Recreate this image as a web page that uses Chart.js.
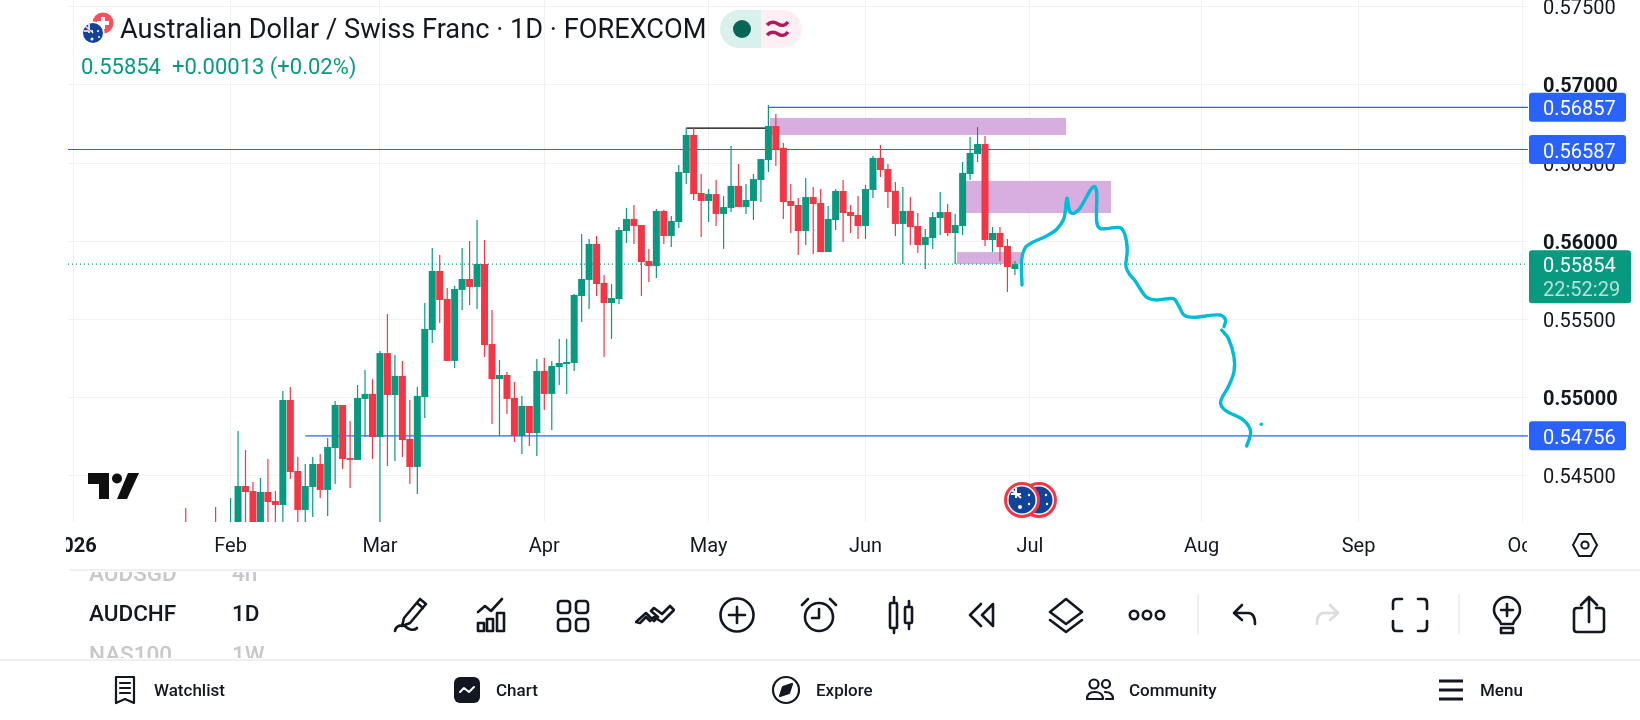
<!DOCTYPE html>
<html>
<head>
<meta charset="utf-8">
<title>AUDCHF 1D</title>
<script src="https://cdn.jsdelivr.net/npm/chart.js@4"></script>
<style>
html, body { margin: 0; padding: 0; background: #fff; width: 1640px; height: 720px; overflow: hidden; font-family: Roboto, sans-serif; color: #131722; }
#chart { position: absolute; left: 0; top: 0; }
.abs { position: absolute; white-space: nowrap; }
.ic { position: absolute; width: 40px; height: 40px; top: 595px; fill: none; stroke: #131722; stroke-width: 2.6; stroke-linecap: round; stroke-linejoin: round; }
.nav { position: absolute; top: 680px; font-size: 17px; font-weight: 500; line-height: 20px; }
.navic { position: absolute; top: 675px; width: 30px; height: 30px; fill: none; stroke: #131722; stroke-width: 2.2; stroke-linecap: round; stroke-linejoin: round; }
#picker { position: absolute; left: 0; top: 572px; width: 350px; height: 86px; overflow: hidden; font-size: 22.5px; font-weight: 500; }
#picker div { position: absolute; line-height: 28px; }
</style>
</head>
<body>
<canvas id="chart" width="1640" height="720"></canvas>

<!-- symbol header -->
<svg class="abs" style="left:80px;top:10px" width="48" height="40" viewBox="0 0 48 40">
  <circle cx="23" cy="13" r="10.5" fill="#F4535B"/>
  <path d="M21 7h4v4h4v4h-4v4h-4v-4h-4v-4h4z" fill="#fff"/>
  <circle cx="13" cy="23" r="11.5" fill="#fff"/>
  <circle cx="13" cy="23" r="10" fill="#12439B"/>
  <path d="M5 16l8 7M4 21h9M9 14v9" stroke="#fff" stroke-width="1.6"/>
  <path d="M5 17l7 6" stroke="#E5374A" stroke-width="1"/>
  <circle cx="12" cy="29" r="1.5" fill="#fff"/><circle cx="18" cy="21" r="1" fill="#fff"/><circle cx="19" cy="27" r="1" fill="#fff"/>
</svg>
<div class="abs" style="left:120px;top:12px;font-size:27.2px;line-height:34px">Australian Dollar / Swiss Franc · 1D · FOREXCOM</div>
<div class="abs" style="left:81px;top:53px;font-size:22px;line-height:28px;color:#089981">0.55854&nbsp; +0.00013 (+0.02%)</div>
<svg class="abs" style="left:720px;top:10px" width="82" height="38" viewBox="0 0 82 38">
  <path d="M41 0H19a19 19 0 0 0 0 38h22z" fill="#DAF0EC"/>
  <path d="M41 0h22a19 19 0 0 1 0 38H41z" fill="#FDEFF4"/>
  <circle cx="22" cy="19" r="9" fill="#056656"/>
  <path d="M47 15c4-4 8-3 11-1s7 2 10-2M47 25c4-4 8-3 11-1s7 2 10-2" fill="none" stroke="#B2185B" stroke-width="3.4"/>
</svg>

<!-- TradingView mark -->
<svg class="abs" style="left:88px;top:473px" width="52" height="27" viewBox="0 0 52 27">
  <path d="M0 0h21v26H11V11H0z" fill="#0F0F0F"/>
  <circle cx="29" cy="5.5" r="5" fill="#0F0F0F"/>
  <path d="M40 0h11L39 26H29z" fill="#0F0F0F"/>
</svg>

<!-- event flags -->
<svg class="abs" style="left:1002px;top:481px" width="56" height="40" viewBox="0 0 56 40">
  <circle cx="37" cy="19" r="16.5" fill="#fff" stroke="#F23645" stroke-width="3"/>
  <circle cx="37" cy="19" r="13.5" fill="#12439B"/>
  <circle cx="20" cy="19" r="16.5" fill="#fff" stroke="#F23645" stroke-width="3"/>
  <circle cx="20" cy="19" r="13.5" fill="#12439B"/>
  <path d="M10 9l9 8M9 13h10M14 7v10" stroke="#fff" stroke-width="2"/>
  <circle cx="18" cy="26" r="2" fill="#fff"/><circle cx="27" cy="14" r="1.2" fill="#fff"/><circle cx="27" cy="23" r="1.2" fill="#fff"/><circle cx="44" cy="14" r="1.2" fill="#fff"/><circle cx="45" cy="23" r="1.2" fill="#fff"/>
</svg>

<!-- axis settings -->
<svg class="abs" style="left:1570px;top:530px;fill:none;stroke:#131722;stroke-width:2" width="30" height="30" viewBox="0 0 30 30">
  <path d="M9 4h12l6 11-6 11H9L3 15z"/><circle cx="15" cy="15" r="3.6"/>
</svg>

<div class="abs" style="left:69px;top:569px;width:1571px;height:2px;background:#F0F0F2"></div>
<div class="abs" style="left:0;top:659px;width:1640px;height:2px;background:#F0F0F2"></div>

<!-- symbol picker -->
<div id="picker">
  <div style="left:89px;top:-13px;color:#C8C8CC">AUDSGD</div><div style="left:232px;top:-13px;color:#C8C8CC">4h</div>
  <div style="left:89px;top:27px">AUDCHF</div><div style="left:232px;top:27px">1D</div>
  <div style="left:89px;top:68px;color:#C8C8CC">NAS100</div><div style="left:232px;top:68px;color:#C8C8CC">1W</div>
</div>

<!-- toolbar -->
<svg class="ic" style="left:391px" viewBox="0 0 40 40"><path d="M29 4l6 5-16 19-8 3 2-8zM26 8l6 5M4 36c1-6 8-7 11-4s8 4 11 1"/></svg>
<svg class="ic" style="left:473px" viewBox="0 0 40 40"><path d="M5 17l7-6 6 5 11-12M5 28h6v8H5zM14 24h6v12h-6zM24 18h7v18h-7z"/></svg>
<svg class="ic" style="left:553px" viewBox="0 0 40 40"><rect x="5" y="6" width="12" height="12" rx="3"/><rect x="23" y="6" width="12" height="12" rx="3"/><rect x="5" y="24" width="12" height="12" rx="3"/><rect x="23" y="24" width="12" height="12" rx="3"/></svg>
<svg class="ic" style="left:635px" viewBox="0 0 40 40"><path d="M1 27l10-9 8 8 4-4-7-6 3-3 8 6 8-8 4 4-12 12-8-5-4 4-4-4-6 6z"/></svg>
<svg class="ic" style="left:717px" viewBox="0 0 40 40"><circle cx="20" cy="20" r="16.5"/><path d="M20 12v16M12 20h16"/></svg>
<svg class="ic" style="left:799px" viewBox="0 0 40 40"><circle cx="20" cy="22" r="14"/><path d="M20 14v9h-7M3 10l6-6M37 10l-6-6"/></svg>
<svg class="ic" style="left:882px" viewBox="0 0 40 40"><path d="M12 2v5M12 33v5M27 6v6M27 28v6"/><rect x="8" y="8" width="7" height="25" rx="1"/><rect x="23" y="12" width="7" height="16" rx="1"/></svg>
<svg class="ic" style="left:963px" viewBox="0 0 40 40"><path d="M18 9L7 20l11 11M30 9L19 20l11 11zM30 9v22"/></svg>
<svg class="ic" style="left:1046px" viewBox="0 0 40 40"><path d="M20 4l16 13-16 12L4 17zM4 25l16 12 16-12"/></svg>
<svg class="ic" style="left:1127px" viewBox="0 0 40 40"><circle cx="7" cy="20" r="4.2"/><circle cx="20" cy="20" r="4.2"/><circle cx="33" cy="20" r="4.2"/></svg>
<div class="abs" style="left:1197px;top:594px;width:2px;height:40px;background:#F0F0F2"></div>
<svg class="ic" style="left:1225px" viewBox="0 0 40 40"><path d="M17 10l-8 8 8 7M9 18h14c5 0 7 4 7 11"/></svg>
<svg class="ic" style="left:1307px;stroke:#DCDCDE" viewBox="0 0 40 40"><path d="M23 10l8 8-8 7M31 18H17c-5 0-7 4-7 11"/></svg>
<svg class="ic" style="left:1390px" viewBox="0 0 40 40"><path d="M12 4H6Q3 4 3 8v6M28 4h6q3 0 3 4v6M12 36H6q-3 0-3-4v-6M28 36h6q3 0 3-4v-6"/></svg>
<div class="abs" style="left:1458px;top:594px;width:2px;height:40px;background:#F0F0F2"></div>
<svg class="ic" style="left:1487px" viewBox="0 0 40 40"><path d="M14 29c0-4-7-6-7-14a13 13 0 0 1 26 0c0 8-7 10-7 14zM14 33h12v5H14zM20 9v12M14 15h12"/></svg>
<svg class="ic" style="left:1569px" viewBox="0 0 40 40"><path d="M13 13H8q-3 0-3 3v18q0 3 3 3h24q3 0 3-3V16q0-3-3-3h-5M20 27V3M12 10l8-8 8 8"/></svg>

<!-- bottom navigation -->
<svg class="navic" style="left:110px" viewBox="0 0 30 30"><path d="M6 2h18v26l-9-4-9 4zM10 8h10M10 13h10M10 18h10"/></svg>
<div class="nav" style="left:154px">Watchlist</div>
<svg class="navic" style="left:452px;stroke:none" viewBox="0 0 30 30"><rect x="2" y="2" width="26" height="26" rx="6" fill="#131722"/><path d="M8 17l4-4 5 4 5-5" fill="none" stroke="#fff" stroke-width="2"/></svg>
<div class="nav" style="left:496px">Chart</div>
<svg class="navic" style="left:771px" viewBox="0 0 30 30"><circle cx="15" cy="15" r="13"/><path d="M21 9l-3 9-9 3 3-9z" fill="#131722"/></svg>
<div class="nav" style="left:816px">Explore</div>
<svg class="navic" style="left:1085px" viewBox="0 0 30 30"><circle cx="9" cy="9" r="4.5"/><circle cx="21" cy="9" r="4"/><path d="M2 24c0-6 4-7 8-7s8 2 8 7zM21 24h7c0-5-3-7-8-7"/></svg>
<div class="nav" style="left:1129px">Community</div>
<svg class="navic" style="left:1436px;stroke-width:3;stroke-linecap:butt" viewBox="0 0 30 30"><path d="M3 6h24M3 15h24M3 24h24"/></svg>
<div class="nav" style="left:1480px">Menu</div>

<script>
// daily bars, counted from the first session of January
const firstBar = 15;
const opens = [
  0.54154, null, null, null, 0.54167, null, 0.54090, 0.54154, 0.54435, 0.54403, 0.54154, 0.54397, 0.54339, 0.54314, 0.54985,
  0.54531, 0.54282, 0.54429, 0.54576, 0.54410, 0.54678, 0.54953, 0.54614, 0.54602, 0.54992, 0.55024, 0.54749, 0.55285, 0.55017, 0.55139,
  0.54736, 0.54557, 0.55004, 0.55433, 0.55810, 0.55631, 0.55235, 0.55689, 0.55759, 0.55708, 0.55855, 0.55343, 0.55119, 0.55145, 0.54998,
  0.54755, 0.54947, 0.54774, 0.55171, 0.55024, 0.55196, 0.55215, 0.55222, 0.55650, 0.55753, 0.55983, 0.55734, 0.55605, 0.55631, 0.56066,
  0.56143, 0.56104, 0.55874, 0.55842, 0.56194, 0.56034, 0.56123, 0.56437, 0.56680, 0.56309, 0.56258, 0.56302, 0.56175, 0.56213, 0.56354,
  0.56219, 0.56258, 0.56392, 0.56520, 0.56737, 0.56597, 0.56258, 0.56232, 0.56066, 0.56283, 0.56245, 0.55931, 0.56136, 0.56322, 0.56187,
  0.56168, 0.56098, 0.56328, 0.56533, 0.56462, 0.56322, 0.56111, 0.56194, 0.56098, 0.55976, 0.56021, 0.56149, 0.56187, 0.56053, 0.56098,
  0.56430, 0.56558, 0.56622, 0.56008, 0.56053, 0.55970, 0.55823
];
const highs = [
  0.54295, null, null, null, 0.54301, null, 0.54358, 0.54787, 0.54665, 0.54461, 0.54486, 0.54608, 0.54403, 0.55043, 0.55068,
  0.54621, 0.54576, 0.54621, 0.54640, 0.54742, 0.54979, 0.54953, 0.54851, 0.55081, 0.55177, 0.55119, 0.55298, 0.55535, 0.55273, 0.55235,
  0.54985, 0.55068, 0.55605, 0.55957, 0.55912, 0.55701, 0.55714, 0.55957, 0.56002, 0.56136, 0.56008, 0.55561, 0.55241, 0.55164, 0.55100,
  0.55011, 0.54947, 0.55247, 0.55254, 0.55235, 0.55375, 0.55375, 0.55663, 0.56047, 0.56015, 0.56034, 0.55785, 0.55727, 0.56091, 0.56213,
  0.56232, 0.56104, 0.55951, 0.56207, 0.56200, 0.56162, 0.56488, 0.56724, 0.56731, 0.56430, 0.56334, 0.56392, 0.56290, 0.56609, 0.56494,
  0.56366, 0.56430, 0.56526, 0.56871, 0.56814, 0.56628, 0.56366, 0.56277, 0.56405, 0.56347, 0.56334, 0.56226, 0.56334, 0.56392, 0.56232,
  0.56290, 0.56360, 0.56545, 0.56616, 0.56494, 0.56379, 0.56347, 0.56283, 0.56181, 0.56079, 0.56187, 0.56315, 0.56238, 0.56175, 0.56507,
  0.56667, 0.56731, 0.56673, 0.56091, 0.56091, 0.56015, 0.55874
];
const lows = [
  0.54058, null, null, null, 0.54090, null, 0.54039, 0.54026, 0.54154, 0.54122, 0.54122, 0.54154, 0.54154, 0.54186, 0.54480,
  0.54186, 0.54186, 0.54237, 0.54358, 0.54244, 0.54448, 0.54544, 0.54422, 0.54602, 0.54749, 0.54608, 0.54186, 0.54563, 0.54595, 0.54621,
  0.54448, 0.54384, 0.54870, 0.55349, 0.55477, 0.55235, 0.55190, 0.55561, 0.55593, 0.55567, 0.55260, 0.54832, 0.54755, 0.54896, 0.54717,
  0.54640, 0.54691, 0.54627, 0.54921, 0.54793, 0.55081, 0.55024, 0.55171, 0.55484, 0.55567, 0.55650, 0.55260, 0.55375, 0.55599, 0.55989,
  0.55983, 0.55650, 0.55740, 0.55765, 0.55983, 0.55963, 0.56085, 0.56366, 0.56264, 0.56027, 0.56123, 0.56098, 0.55951, 0.56187, 0.56219,
  0.56175, 0.56136, 0.56251, 0.56443, 0.56481, 0.56143, 0.56053, 0.55912, 0.55976, 0.55919, 0.55931, 0.55931, 0.56072, 0.55995, 0.56053,
  0.56015, 0.56015, 0.56277, 0.56411, 0.56213, 0.56034, 0.55855, 0.55976, 0.55925, 0.55823, 0.55951, 0.56040, 0.56034, 0.55855, 0.56040,
  0.56392, 0.56507, 0.55970, 0.55931, 0.55874, 0.55676, 0.55785
];
const closes = [
  0.54116, null, null, null, 0.54128, null, 0.54180, 0.54435, 0.54397, 0.54154, 0.54397, 0.54333, 0.54314, 0.54985, 0.54525,
  0.54282, 0.54435, 0.54576, 0.54410, 0.54685, 0.54953, 0.54608, 0.54602, 0.54998, 0.55024, 0.54749, 0.55285, 0.55017, 0.55139, 0.54729,
  0.54557, 0.55011, 0.55439, 0.55810, 0.55625, 0.55235, 0.55695, 0.55759, 0.55708, 0.55855, 0.55337, 0.55119, 0.55145, 0.54992, 0.54755,
  0.54947, 0.54774, 0.55171, 0.55024, 0.55203, 0.55222, 0.55228, 0.55657, 0.55759, 0.55983, 0.55727, 0.55605, 0.55637, 0.56072, 0.56143,
  0.56098, 0.55867, 0.55842, 0.56194, 0.56034, 0.56130, 0.56443, 0.56680, 0.56302, 0.56258, 0.56302, 0.56175, 0.56219, 0.56354, 0.56219,
  0.56264, 0.56398, 0.56526, 0.56737, 0.56590, 0.56251, 0.56226, 0.56066, 0.56283, 0.56238, 0.55931, 0.56143, 0.56322, 0.56181, 0.56162,
  0.56098, 0.56334, 0.56533, 0.56456, 0.56315, 0.56111, 0.56194, 0.56091, 0.55976, 0.56027, 0.56155, 0.56187, 0.56053, 0.56104, 0.56437,
  0.56565, 0.56622, 0.56008, 0.56053, 0.55963, 0.55835, 0.55854
];

const monthBars = [0, 21, 41, 63, 85, 106, 128, 151, 172, 194];
const monthLabels = ['2026', 'Feb', 'Mar', 'Apr', 'May', 'Jun', 'Jul', 'Aug', 'Sep', 'Oct'];
const priceTicks = [0.575, 0.57, 0.565, 0.56, 0.555, 0.55, 0.545];
const boldPrices = [0.57, 0.56, 0.55];

const lastPrice = 0.55854;
const countdown = '22:52:29';

// horizontal drawings
const levelPrices = [0.56857, 0.56587, 0.54756];
const levelStarts = [93, -0.76, 31];
const swingPrice = 0.56724;
const swingBars = [82, 93];

// shaded zones
const zoneStarts = [93.21, 119.38, 118.24];
const zoneEnds = [132.84, 138.86, 126.82];
const zoneTops = [0.56789, 0.56386, 0.55931];
const zoneBottoms = [0.56680, 0.56181, 0.55854];

// hand drawn path, null splits the two strokes
const penBars = [126.95, 126.9, 127.35, 128.25, 130.25, 131.6, 132.57, 132.97, 133.37, 133.9, 134.7, 135.6, 136.28, 136.72, 136.95, 136.95, 137.39, 138.29, 140.07, 140.74, 141.04, 140.87, 141.41, 142.08, 143.64, 144.98, 147.2, 147.87, 148.63, 149.88, 153.45, 154.2, 153.99, null, 153.68, 154.57, 155.33, 155.33, 154.57, 153.55, 154.12, 156.57, 157.56, 157.03];
const penPrices = [0.55721, 0.5588, 0.55957, 0.55991, 0.56034, 0.56077, 0.56147, 0.56275, 0.56189, 0.56179, 0.56211, 0.56285, 0.56339, 0.56349, 0.56307, 0.56125, 0.56083, 0.56081, 0.56087, 0.5604, 0.55944, 0.55838, 0.55785, 0.55748, 0.55642, 0.55625, 0.55633, 0.55593, 0.55529, 0.55514, 0.55529, 0.55497, 0.55454, null, 0.55433, 0.5538, 0.55262, 0.55166, 0.5507, 0.54974, 0.54921, 0.54857, 0.54783, 0.54691];
const penDotBar = 158.98;
const penDotPrice = 0.5483;

const upColor = '#089981';
const downColor = '#F23645';
const blue = '#2962FF';
const gridColor = '#F1F2F4';
const zoneColor = '#D8ADE0';
const penColor = '#00BCD4';

const bodies = [];
const wicks = [];
const barColors = [];
opens.forEach(function(o, n) {
    if (o === null) return;
    const x = firstBar + n;
    bodies.push({ x: x, y: [o, closes[n]] });
    wicks.push({ x: x, y: [lows[n], highs[n]] });
    barColors.push(closes[n] >= o ? upColor : downColor);
});

function level(start, price, color) {
    return {
        type: 'line',
        data: [{ x: start, y: price }, { x: 194.69, y: price }],
        borderColor: color,
        borderWidth: 1.2,
        pointRadius: 0,
        order: 3
    };
}

const datasets = levelPrices.map(function(p, n) {
    return level(levelStarts[n], p, blue);
});

datasets.push({
    type: 'line',
    data: [{ x: -0.76, y: lastPrice }, { x: 194.69, y: lastPrice }],
    borderColor: upColor,
    borderWidth: 1.2,
    borderDash: [1, 3],
    pointRadius: 0,
    order: 3
});
datasets.push({
    type: 'line',
    data: swingBars.map(function(b) { return { x: b, y: swingPrice }; }),
    borderColor: '#000',
    borderWidth: 1.2,
    pointRadius: 0,
    order: 3
});
datasets.push({
    type: 'bar',
    data: wicks,
    backgroundColor: barColors,
    barThickness: 1.2,
    inflateAmount: 0,
    grouped: false,
    order: 2
});
datasets.push({
    type: 'bar',
    data: bodies,
    backgroundColor: barColors,
    barThickness: 7,
    inflateAmount: 0,
    grouped: false,
    order: 1
});
datasets.push({
    type: 'line',
    data: penBars.map(function(b, n) { return { x: b, y: penPrices[n] }; }),
    borderColor: penColor,
    borderWidth: 3.4,
    borderCapStyle: 'round',
    borderJoinStyle: 'round',
    tension: 0.35,
    pointRadius: 0,
    spanGaps: false,
    order: 0
});
datasets.push({
    type: 'line',
    data: [{ x: penDotBar, y: penDotPrice }],
    pointRadius: 1.8,
    pointBackgroundColor: penColor,
    pointBorderWidth: 0,
    showLine: false,
    order: 0
});

const zonesPlugin = {
    id: 'zones',
    beforeDatasetsDraw: function(chart) {
        const ctx = chart.ctx, x = chart.scales.x, y = chart.scales.y;
        ctx.save();
        ctx.fillStyle = zoneColor;
        zoneStarts.forEach(function(s, n) {
            const left = x.getPixelForValue(s);
            const top = y.getPixelForValue(zoneTops[n]);
            ctx.fillRect(left, top, x.getPixelForValue(zoneEnds[n]) - left, y.getPixelForValue(zoneBottoms[n]) - top);
        });
        ctx.restore();
    }
};

function roundRect(ctx, x, y, w, h, r) {
    ctx.beginPath();
    ctx.roundRect(x, y, w, h, r);
    ctx.fill();
}

const tagsPlugin = {
    id: 'tags',
    afterDraw: function(chart) {
        const ctx = chart.ctx, y = chart.scales.y;
        ctx.save();
        // the time axis is cut off at both sides
        ctx.fillStyle = '#fff';
        ctx.fillRect(0, 525, 66, 40);
        ctx.fillRect(1527, 525, 40, 40);

        ctx.font = '20px Roboto';
        ctx.textBaseline = 'middle';
        ctx.textAlign = 'left';
        levelPrices.forEach(function(p) {
            const py = y.getPixelForValue(p);
            ctx.fillStyle = blue;
            roundRect(ctx, 1529, py - 14.5, 97, 29, 3);
            ctx.fillStyle = '#fff';
            ctx.fillText(p.toFixed(5), 1543, py + 3);
        });

        const ly = y.getPixelForValue(lastPrice);
        ctx.fillStyle = upColor;
        roundRect(ctx, 1529, ly - 14, 102, 53, 3);
        ctx.fillStyle = '#fff';
        ctx.fillText(lastPrice.toFixed(5), 1543, ly + 3);
        ctx.fillStyle = 'rgba(255,255,255,0.7)';
        ctx.fillText(countdown, 1543, ly + 27);
        ctx.restore();
    }
};

// keep the plot at a fixed size, whatever the edge labels measure
function noScalePadding(scale) {
    scale.paddingLeft = 0;
    scale.paddingRight = 0;
    scale.paddingTop = 0;
    scale.paddingBottom = 0;
}

new Chart(document.getElementById('chart').getContext('2d'), {
    type: 'bar',
    data: { datasets: datasets },
    plugins: [zonesPlugin, tagsPlugin],
    options: {
        responsive: false,
        animation: false,
        devicePixelRatio: 1,
        layout: { autoPadding: false, padding: { left: 68, top: 0, right: 0, bottom: 0 } },
        plugins: { legend: { display: false }, tooltip: { enabled: false } },
        scales: {
            x: {
                type: 'linear',
                offset: false,
                min: -0.763,
                max: 194.69,
                afterBuildTicks: function(scale) {
                    scale.ticks = monthBars.map(function(v) { return { value: v }; });
                },
                afterFit: function(scale) { scale.height = 198; noScalePadding(scale); },
                grid: { color: gridColor, drawTicks: false, offset: false },
                border: { display: false },
                ticks: {
                    autoSkip: false,
                    maxRotation: 0,
                    padding: 13,
                    color: '#131722',
                    font: function(c) {
                        return { family: 'Roboto', size: 20, weight: c.index === 0 ? 'bold' : 'normal' };
                    },
                    callback: function(v) { return monthLabels[monthBars.indexOf(v)]; }
                }
            },
            y: {
                position: 'right',
                min: 0.54205,
                max: 0.57543,
                afterBuildTicks: function(scale) {
                    scale.ticks = priceTicks.map(function(v) { return { value: v }; });
                },
                afterFit: function(scale) { scale.width = 112; noScalePadding(scale); },
                grid: { color: gridColor, drawTicks: false },
                border: { display: false },
                ticks: {
                    autoSkip: false,
                    padding: 15,
                    labelOffset: 2.5,
                    color: '#131722',
                    font: function(c) {
                        const bold = c.tick && boldPrices.indexOf(c.tick.value) >= 0;
                        return { family: 'Roboto', size: 20, weight: bold ? 'bold' : 'normal' };
                    },
                    callback: function(v) { return v.toFixed(5); }
                }
            }
        }
    }
});
</script>
</body>
</html>
